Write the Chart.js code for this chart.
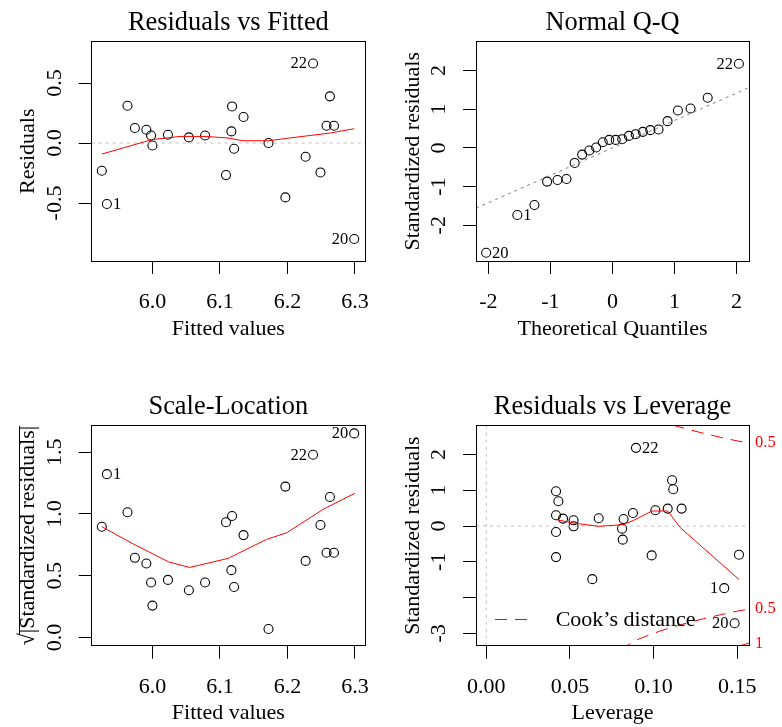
<!DOCTYPE html>
<html><head><meta charset="utf-8">
<script src="https://cdn.jsdelivr.net/npm/chart.js@4.4.1/dist/chart.umd.min.js"></script>
<style>
html,body{margin:0;padding:0;background:#fff;width:782px;height:727px;overflow:hidden;position:relative}
canvas{position:absolute}
</style></head><body>
<script>
// ---------- Panel 1: Residuals vs Fitted ----------
const fittedVals = [5.925, 5.9325, 5.963, 5.974, 5.991, 5.998, 6.000, 6.023, 6.054, 6.078, 6.109, 6.117, 6.118, 6.121, 6.135, 6.172, 6.197, 6.227, 6.238, 6.249, 6.258, 6.263, 6.269, 6.299];
const residVals  = [-0.231, -0.508, 0.311, 0.125, 0.111, 0.063, -0.020, 0.069, 0.047, 0.063, -0.267, 0.097, 0.305, -0.048, 0.217, 0.000, -0.453, -0.114, 0.663, -0.245, 0.144, 0.389, 0.144, -0.800];
const fittedIds  = ['', '1', '', '', '', '', '', '', '', '', '', '', '', '', '', '', '', '', '22', '', '', '', '', '20'];
const residSmoothX = [5.925, 5.999, 6.041, 6.078, 6.112, 6.134, 6.172, 6.199, 6.263, 6.299];
const residSmoothY = [-0.092, 0.028, 0.055, 0.055, 0.042, 0.019, 0.019, 0.039, 0.083, 0.119];
const fittedTicks = [6.0, 6.1, 6.2, 6.3];
const fittedTickLabels = ['6.0', '6.1', '6.2', '6.3'];
const residTicks = [-0.5, 0, 0.5];
const residTickLabels = ['-0.5', '0.0', '0.5'];

// ---------- Panel 2: Normal Q-Q ----------
const theoQuant = [-2.037, -1.534, -1.258, -1.054, -0.887, -0.742, -0.610, -0.489, -0.374, -0.264, -0.157, -0.052, 0.052, 0.157, 0.264, 0.374, 0.489, 0.610, 0.742, 0.887, 1.054, 1.258, 1.534, 2.037];
const stdResQQ  = [-2.710, -1.736, -1.477, -0.872, -0.829, -0.803, -0.389, -0.173, -0.069, 0.009, 0.147, 0.207, 0.207, 0.225, 0.311, 0.354, 0.415, 0.458, 0.475, 0.691, 0.967, 1.019, 1.295, 2.176];
const qqIds     = ['20', '1', '', '', '', '', '', '', '', '', '', '', '', '', '', '', '', '', '', '', '', '', '', '22'];
const qqLineX = [-2.2, 2.2];
const qqLineY = [-1.56, 1.56];
const qqTicks = [-2, -1, 0, 1, 2];
const qqTickLabels = ['-2', '-1', '0', '1', '2'];

// ---------- Panel 3: Scale-Location ----------
const sqrtAbsStd = [0.897, 1.323, 1.014, 0.645, 0.599, 0.445, 0.258, 0.466, 0.382, 0.445, 0.933, 0.545, 0.984, 0.409, 0.829, 0.068, 1.222, 0.620, 1.480, 0.911, 0.686, 1.138, 0.686, 1.653];
const scaleSmoothX = [5.925, 5.972, 6.024, 6.055, 6.112, 6.169, 6.199, 6.253, 6.300];
const scaleSmoothY = [0.897, 0.756, 0.612, 0.567, 0.640, 0.794, 0.848, 1.038, 1.168];
const scaleTicks = [0, 0.5, 1.0, 1.5];
const scaleTickLabels = ['0.0', '0.5', '1.0', '1.5'];

// ---------- Panel 4: Residuals vs Leverage ----------
const leverage  = [0.0895, 0.0417, 0.0431, 0.0417, 0.0459, 0.0417, 0.0417, 0.0522, 0.0522, 0.0672, 0.0634, 0.0821, 0.0812, 0.0816, 0.0877, 0.0989, 0.1011, 0.1085, 0.1111, 0.1118, 0.1168, 0.1511, 0.1423, 0.1485];
const stdResLev = [2.185, 0.972, 0.692, 0.300, 0.207, -0.168, -0.868, 0.160, -0.008, 0.216, -1.485, 0.196, -0.073, -0.381, 0.364, -0.821, 0.440, 0.487, 1.280, 1.028, 0.487, -0.801, -1.737, -2.717];
const levIds    = ['22', '', '', '', '', '', '', '', '', '', '', '', '', '', '', '', '', '', '', '', '', '', '1', '20'];
const levSmoothX = [0.0417, 0.0522, 0.0672, 0.0821, 0.0881, 0.0991, 0.1085, 0.1160, 0.1511];
const levSmoothY = [0.179, 0.084, -0.008, 0.039, 0.160, 0.420, 0.420, -0.045, -1.493];
const cookUpperX = [0.100, 0.110, 0.120, 0.130, 0.140, 0.150, 0.158];
const cookUpperY = [3.00, 2.84, 2.71, 2.59, 2.48, 2.38, 2.31];
const cookLowerX = [0.080, 0.090, 0.100, 0.110, 0.120, 0.130, 0.140, 0.150, 0.158];
const cookLowerY = [-3.46, -3.18, -3.00, -2.84, -2.71, -2.59, -2.48, -2.38, -2.31];
const cookOneX = [0.140, 0.150, 0.158];
const cookOneY = [-3.51, -3.37, -3.26];
const levTicks = [0, 0.05, 0.10, 0.15];
const levTickLabels = ['0.00', '0.05', '0.10', '0.15'];
const levYTicks = [-3, -2, -1, 0, 1, 2];
const levYTickLabels = ['-3', '', '-1', '0', '1', '2'];
const cookTicks = [2.317, -2.317, -3.277];
const cookTickLabels = ['0.5', '0.5', '1'];

// ---------- helpers ----------
const SERIF = '"Liberation Serif","Times New Roman",Times,serif';
const RED = '#ff0000';
const mctx = document.createElement('canvas').getContext('2d');
function tw(s, size) { mctx.font = size + 'px ' + SERIF; return mctx.measureText(s).width; }
function pts(xs, ys) { return xs.map((x, i) => ({x: x, y: ys[i]})); }
function alignPx(v) { return Math.round(v - 0.5) + 0.5; }

function lineDs(data, color, dash, width) {
  return {data: data, showLine: true, borderColor: color, borderWidth: width || 1, borderDash: dash || [],
          pointRadius: 0, pointHoverRadius: 0, fill: false, tension: 0};
}
function pointDs(data) {
  return {data: data, showLine: false, pointRadius: 4.5, pointHoverRadius: 4.5, pointStyle: 'circle',
          pointBorderColor: '#000', pointBackgroundColor: 'rgba(0,0,0,0)', pointBorderWidth: 1.1};
}

function makePanel(p) {
  const cv = document.createElement('canvas');
  cv.width = p.cw; cv.height = p.ch;
  cv.style.left = p.cx + 'px'; cv.style.top = p.cy + 'px';
  document.body.appendChild(cv);
  const Wy = p.L - p.cx;
  const Hx = p.cy + p.ch - p.B;
  const rightW = p.right ? (p.cx + p.cw - p.R) : 0;
  const yWidest = Math.max(...p.yLabels.map(s => tw(s, 22)));
  const yTitlePad = (p.L - 63 - p.cx) - 13.2;
  const titlePadTop = p.T - 18.8 - p.cy - 15.84;
  const gridOpts = {display: true, drawOnChartArea: false, drawTicks: true, tickLength: 13, color: '#000', lineWidth: 1};
  const scales = {
    x: {
      type: 'linear', position: 'bottom', min: p.xMin, max: p.xMax,
      afterBuildTicks: s => { s.ticks = p.xTicks.map(v => ({value: v})); },
      afterFit: s => { s.height = Hx; },
      ticks: {autoSkip: false, minRotation: 0, maxRotation: 0, padding: 15.3, color: '#000',
              font: {family: SERIF, size: 22}, callback: (v, i) => p.xLabels[i]},
      grid: gridOpts, border: {display: false},
      title: {display: true, text: p.xTitle, color: '#000', font: {family: SERIF, size: 22},
              padding: {top: 0, bottom: Hx - 81.2}}
    },
    y: {
      type: 'linear', position: 'left', min: p.yMin, max: p.yMax,
      afterBuildTicks: s => { s.ticks = p.yTicks.map(v => ({value: v})); },
      afterFit: s => { s.width = Wy; },
      ticks: {autoSkip: false, minRotation: 90, maxRotation: 90, crossAlign: 'center',
              padding: 23.5 - yWidest / 2, color: '#000', font: {family: SERIF, size: 22},
              callback: (v, i) => p.yLabels[i]},
      grid: gridOpts, border: {display: false},
      title: {display: true, text: p.yTitle, color: '#000', font: {family: SERIF, size: 22},
              padding: {top: yTitlePad, bottom: 0}}
    }
  };
  if (p.right) {
    scales.y2 = {
      type: 'linear', position: 'right', min: p.yMin, max: p.yMax,
      afterBuildTicks: s => { s.ticks = p.right.ticks.map(v => ({value: v})); },
      afterFit: s => { s.width = rightW; },
      ticks: {autoSkip: false, padding: 6, color: RED, font: {family: SERIF, size: 16.5},
              callback: (v, i) => p.right.labels[i]},
      grid: {display: false, drawTicks: false, tickLength: 0}, border: {display: false}
    };
  }
  const plugins = [
    {
      id: 'rbox' + p.name,
      afterDraw(chart) {
        const a = chart.chartArea, c = chart.ctx;
        c.save(); c.strokeStyle = '#000'; c.lineWidth = 1;
        const l = alignPx(a.left), r = alignPx(a.right), t = alignPx(a.top), b = alignPx(a.bottom);
        c.strokeRect(l, t, r - l, b - t);
        c.restore();
      }
    },
    {
      id: 'ids' + p.name,
      afterDatasetsDraw(chart) {
        const idx = p.pointIndex;
        const meta = chart.getDatasetMeta(idx);
        const data = chart.data.datasets[idx].data;
        const xs = data.map(d => d.x);
        const mid = (Math.min(...xs) + Math.max(...xs)) / 2;
        const c = chart.ctx;
        c.save(); c.font = '16.5px ' + SERIF; c.fillStyle = '#000'; c.textBaseline = 'middle';
        meta.data.forEach((el, i) => {
          const lab = p.ids[i];
          if (!lab) return;
          const toRight = data[i].x <= mid;
          c.textAlign = toRight ? 'left' : 'right';
          c.fillText(lab, el.x + (toRight ? 6 : -6), el.y + 0.5);
        });
        c.restore();
      }
    }
  ];
  if (p.extra) plugins.push(p.extra(yTitlePad));
  return new Chart(cv, {
    type: 'scatter',
    data: {datasets: p.datasets},
    options: {
      responsive: false, animation: false, devicePixelRatio: 1, events: [],
      layout: {padding: {left: 0, top: 0, bottom: 0, right: p.cx + p.cw - p.R - rightW}},
      plugins: {
        legend: {display: false}, tooltip: {enabled: false},
        title: {display: true, text: p.title, fullSize: false, color: '#000',
                font: {family: SERIF, size: 26.4, weight: 'normal'},
                padding: {top: titlePadTop, bottom: p.T - p.cy - titlePadTop - 31.68}}
      },
      scales: scales
    },
    plugins: plugins
  });
}

// Panel 1
const fitXMin = 5.910, fitXMax = 6.315;
makePanel({
  name: 'p1', cx: 0, cy: 0, cw: 391, ch: 363, L: 91.7, T: 41.5, R: 365, B: 261,
  xMin: fitXMin, xMax: fitXMax, yMin: -0.983, yMax: 0.846,
  xTicks: fittedTicks, xLabels: fittedTickLabels, yTicks: residTicks, yLabels: residTickLabels,
  title: 'Residuals vs Fitted', xTitle: 'Fitted values', yTitle: 'Residuals',
  ids: fittedIds, pointIndex: 2,
  datasets: [
    lineDs(pts(residSmoothX, residSmoothY), RED),
    lineDs(pts([fitXMin, fitXMax], [0, 0]), '#bebebe', [3, 4]),
    pointDs(pts(fittedVals, residVals))
  ]
});

// Panel 2
makePanel({
  name: 'p2', cx: 391, cy: 0, cw: 391, ch: 363, L: 476, T: 41.5, R: 749, B: 261,
  xMin: -2.2, xMax: 2.2, yMin: -2.924, yMax: 2.75,
  xTicks: qqTicks, xLabels: qqTickLabels, yTicks: qqTicks, yLabels: qqTickLabels,
  title: 'Normal Q-Q', xTitle: 'Theoretical Quantiles', yTitle: 'Standardized residuals',
  ids: qqIds, pointIndex: 1,
  datasets: [
    lineDs(pts(qqLineX, qqLineY), '#7f7f7f', [3, 4]),
    pointDs(pts(theoQuant, stdResQQ))
  ]
});

// Panel 3
const slTitle = '\u221A|Standardized residuals|';
makePanel({
  name: 'p3', cx: 0, cy: 363, cw: 391, ch: 380, L: 91.7, T: 425.5, R: 365, B: 645.7,
  xMin: fitXMin, xMax: fitXMax, yMin: -0.067, yMax: 1.717,
  xTicks: fittedTicks, xLabels: fittedTickLabels, yTicks: scaleTicks, yLabels: scaleTickLabels,
  title: 'Scale-Location', xTitle: 'Fitted values', yTitle: slTitle,
  ids: fittedIds, pointIndex: 1,
  datasets: [
    lineDs(pts(scaleSmoothX, scaleSmoothY), RED),
    pointDs(pts(fittedVals, sqrtAbsStd))
  ],
  extra: (pad) => ({
    id: 'sqrtbar',
    afterDraw(chart) {
      const s = chart.scales.y, a = chart.chartArea, c = chart.ctx;
      const xMid = s.left + pad + 13.2;
      const yc = (a.top + a.bottom) / 2;
      const full = tw(slTitle, 22), sq = tw('\u221A', 22);
      const xl = Math.round(xMid - 10) + 0.5;
      c.save(); c.strokeStyle = '#000'; c.lineWidth = 1;
      c.beginPath(); c.moveTo(xl, yc + full / 2 - sq + 1); c.lineTo(xl, yc - full / 2); c.stroke();
      c.restore();
    }
  })
});

// Panel 4
const levXMin = -0.00616, levXMax = 0.1571, levYMin = -3.345, levYMax = 2.81;
makePanel({
  name: 'p4', cx: 391, cy: 363, cw: 391, ch: 380, L: 476, T: 425.5, R: 749, B: 645.7,
  xMin: levXMin, xMax: levXMax, yMin: levYMin, yMax: levYMax,
  xTicks: levTicks, xLabels: levTickLabels, yTicks: levYTicks, yLabels: levYTickLabels,
  title: 'Residuals vs Leverage', xTitle: 'Leverage', yTitle: 'Standardized residuals',
  ids: levIds, pointIndex: 6,
  right: {ticks: cookTicks, labels: cookTickLabels},
  datasets: [
    lineDs(pts(levSmoothX, levSmoothY), RED),
    lineDs(pts(cookUpperX, cookUpperY), RED, [12, 8]),
    lineDs(pts(cookLowerX, cookLowerY), RED, [12, 8]),
    lineDs(pts(cookOneX, cookOneY), RED, [12, 8]),
    lineDs(pts([levXMin, levXMax], [0, 0]), '#bebebe', [3, 4]),
    lineDs(pts([0, 0], [levYMin, levYMax]), '#bebebe', [3, 4]),
    pointDs(pts(leverage, stdResLev))
  ],
  extra: () => ({
    id: 'cookLegend',
    afterDraw(chart) {
      const a = chart.chartArea, c = chart.ctx;
      c.save();
      c.strokeStyle = RED; c.lineWidth = 1; c.setLineDash([12, 8]);
      const yl = Math.round(a.bottom - 26.5) + 0.5;
      c.beginPath(); c.moveTo(a.left + 19, yl); c.lineTo(a.left + 53, yl); c.stroke();
      c.setLineDash([]);
      c.font = '22px ' + SERIF; c.fillStyle = '#000'; c.textBaseline = 'middle'; c.textAlign = 'left';
      c.fillText('Cook\u2019s distance', a.left + 79.7, a.bottom - 25);
      c.restore();
    }
  })
});
</script>
</body></html>
